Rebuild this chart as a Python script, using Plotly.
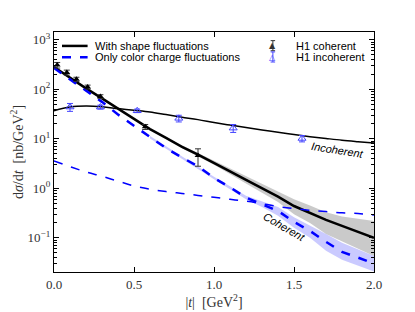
import plotly.graph_objects as go

# ---- data ----
t_curve = [0.0, 0.1, 0.2, 0.3, 0.4, 0.5, 0.6, 0.7, 0.8, 0.9, 1.0,
           1.1, 1.2, 1.3, 1.4, 1.5, 1.6, 1.7, 1.8, 1.9, 2.0]
coh_shape = [282, 170, 105, 66, 41, 25, 15.8, 10.5, 6.9, 4.8, 3.3,
             2.2, 1.48, 1.0, 0.68, 0.44, 0.32, 0.23, 0.175, 0.13, 0.1]
coh_color = [270, 158, 95, 56, 31, 18.5, 10.8, 6.5, 4.2, 2.8, 1.62,
             1.05, 0.65, 0.48, 0.35, 0.21, 0.138, 0.083, 0.052, 0.04, 0.03]
incoh_shape = [37, 44, 46, 44.5, 41, 38, 35, 31, 27.5, 24.5, 21.5,
               19, 17, 15.2, 13.6, 12.2, 11.1, 10.2, 9.4, 8.8, 8.3]
incoh_color = [3.6, 2.75, 2.15, 1.75, 1.4, 1.12, 0.96, 0.86, 0.79, 0.72, 0.66,
               0.6, 0.55, 0.49, 0.43, 0.39, 0.36, 0.34, 0.32, 0.31, 0.29]

t_band_shape = [0.8, 1.0, 1.2, 1.3, 1.4, 1.5, 1.6, 1.7, 1.8, 1.9, 2.0]
shape_lo = [6.5, 3.0, 1.25, 0.8, 0.53, 0.30, 0.2, 0.12, 0.085, 0.06, 0.043]
shape_hi = [7.4, 3.6, 1.75, 1.22, 0.88, 0.6, 0.45, 0.33, 0.27, 0.24, 0.22]

t_band_color = [0.6, 0.8, 1.0, 1.2, 1.3, 1.4, 1.5, 1.6, 1.7, 1.8, 1.9, 2.0]
color_lo = [10.2, 4.0, 1.52, 0.6, 0.42, 0.28, 0.16, 0.10, 0.055, 0.036, 0.027, 0.021]
color_hi = [11.4, 4.4, 1.72, 0.71, 0.55, 0.42, 0.26, 0.18, 0.12, 0.08, 0.058, 0.043]

h1_coh_t = [0.02, 0.08, 0.14, 0.21, 0.29, 0.57, 0.9]
h1_coh_y = [310, 220, 160, 112, 72, 17.5, 4.6]
h1_coh_ep = [40, 25, 16, 10, 6, 2.0, 1.7]
h1_coh_em = [40, 25, 16, 10, 6, 2.0, 1.8]

h1_inc_t = [0.1, 0.29, 0.52, 0.78, 1.12, 1.55]
h1_inc_y = [44, 44, 37, 26, 16.5, 10.2]
h1_inc_e = [8, 4, 3, 4, 3, 1.5]

x_ticks = [0.0, 0.5, 1.0, 1.5, 2.0]
x_ticklabels = ["0.0", "0.5", "1.0", "1.5", "2.0"]
y_ticks = [0.1, 1, 10, 100, 1000]
y_ticklabels = ["10<sup>−1</sup>", "10<sup>0</sup>", "10<sup>1</sup>",
                "10<sup>2</sup>", "10<sup>3</sup>"]

legend_left = ["With shape fluctuations", "Only color charge fluctuations"]
legend_right = ["H1 coherent", "H1 incoherent"]

serif = "Liberation Serif"
sans = "Liberation Sans"
BLUE = "#0000ff"
DBLUE = "#4444ff"

fig = go.Figure()

# bands
fig.add_trace(go.Scatter(x=t_band_shape + t_band_shape[::-1],
                         y=shape_hi + shape_lo[::-1], fill="toself",
                         fillcolor="rgba(150,150,150,0.5)", line=dict(width=0),
                         showlegend=False, hoverinfo="skip"))
fig.add_trace(go.Scatter(x=t_band_color + t_band_color[::-1],
                         y=color_hi + color_lo[::-1], fill="toself",
                         fillcolor="rgba(80,80,255,0.3)", line=dict(width=0),
                         showlegend=False, hoverinfo="skip"))

# curves
fig.add_trace(go.Scatter(x=t_curve, y=coh_shape, mode="lines",
                         line=dict(color="black", width=2.5),
                         name=legend_left[0], showlegend=False))
fig.add_trace(go.Scatter(x=t_curve, y=coh_color, mode="lines",
                         line=dict(color=BLUE, width=2.5, dash="dash"),
                         name=legend_left[1], showlegend=False))
fig.add_trace(go.Scatter(x=t_curve, y=incoh_shape, mode="lines", line_shape="spline",
                         line=dict(color="black", width=1.5), showlegend=False))
fig.add_trace(go.Scatter(x=t_curve, y=incoh_color, mode="lines", line_shape="spline",
                         line=dict(color=BLUE, width=1.5, dash="dash"),
                         showlegend=False))

# data
fig.add_trace(go.Scatter(x=h1_coh_t, y=h1_coh_y, mode="markers",
                         marker=dict(symbol="triangle-up", color="black", size=6),
                         error_y=dict(type="data", array=h1_coh_ep, arrayminus=h1_coh_em,
                                      color="#333333", thickness=1, width=3),
                         name=legend_right[0], showlegend=False))
fig.add_trace(go.Scatter(x=h1_inc_t, y=h1_inc_y, mode="markers",
                         marker=dict(symbol="triangle-up-open", color=DBLUE, size=7,
                                     line=dict(width=1)),
                         error_y=dict(type="data", array=h1_inc_e,
                                      color=DBLUE, thickness=1, width=3),
                         name=legend_right[1], showlegend=False))

# curve labels
fig.add_annotation(x=1.77, y=0.78, xref="x", yref="y", yanchor="middle",
                   text="<i>Incoherent</i>", showarrow=False, textangle=9,
                   font=dict(family=sans, size=11, color="black"))
fig.add_annotation(x=1.44, y=-0.79, xref="x", yref="y",
                   text="<i>Coherent</i>", showarrow=False, textangle=30,
                   font=dict(family=sans, size=11, color="black"))

# ---- compact matplotlib-style legends (paper coordinates) ----
row_y = [0.942, 0.895]
# left legend: line samples + labels
fig.add_shape(type="line", xref="paper", yref="paper", x0=0.025, x1=0.105,
              y0=row_y[0], y1=row_y[0], line=dict(color="black", width=2.5))
fig.add_shape(type="line", xref="paper", yref="paper", x0=0.025, x1=0.105,
              y0=row_y[1], y1=row_y[1], line=dict(color=BLUE, width=2.5, dash="dash"))
for txt, yy in zip(legend_left, row_y):
    fig.add_annotation(x=0.125, y=yy, xref="paper", yref="paper", xanchor="left",
                       yanchor="middle", text=txt, showarrow=False, borderpad=0,
                       font=dict(family=sans, size=11, color="black"))
# right legend: marker samples with error bars + labels
mk_x = 0.684
for yy, col, glyph in zip(row_y, ["#333333", DBLUE], ["▲", "△"]):
    fig.add_shape(type="line", xref="paper", yref="paper", x0=mk_x, x1=mk_x,
                  y0=yy - 0.02, y1=yy + 0.022, line=dict(color=col, width=1))
    for cap in (yy - 0.02, yy + 0.022):
        fig.add_shape(type="line", xref="paper", yref="paper", x0=mk_x - 0.007,
                      x1=mk_x + 0.007, y0=cap, y1=cap, line=dict(color=col, width=1))
    fig.add_annotation(x=mk_x, y=yy, xref="paper", yref="paper", xanchor="center",
                       yanchor="middle", text=glyph, showarrow=False, borderpad=0,
                       font=dict(family="DejaVu Sans", size=8, color=col))
for txt, yy in zip(legend_right, row_y):
    fig.add_annotation(x=0.753, y=yy, xref="paper", yref="paper", xanchor="left",
                       yanchor="middle", text=txt, showarrow=False, borderpad=0,
                       font=dict(family=sans, size=11, color="black"))

axis_common = dict(showline=True, linecolor="black", linewidth=1.2, mirror="ticks",
                   ticks="inside", tickcolor="black", ticklen=5, showgrid=False,
                   zeroline=False, automargin=False,
                   tickfont=dict(family=serif, size=13, color="#333333"))

# page body has an 8px margin: figure is 407x304 drawn from (8, 8)
fig.update_layout(
    width=407, height=304,
    margin=dict(l=46, r=41, t=24, b=40),
    plot_bgcolor="white", paper_bgcolor="white",
    showlegend=False,
    xaxis=dict(range=[0, 2.0], tickvals=x_ticks, ticktext=x_ticklabels,
               title=dict(text="|<i>t</i>|  [GeV<sup>2</sup>]",
                          font=dict(family=serif, size=14, color="#333333"), standoff=2),
               **axis_common),
    yaxis=dict(type="log", range=[-1.69, 3.16], tickvals=y_ticks, ticktext=y_ticklabels,
               title=dict(text="d<i>σ</i>/d<i>t</i>  [nb/GeV<sup>2</sup>]",
                          font=dict(family=serif, size=14, color="#333333"), standoff=2),
               minor=dict(ticks="inside", ticklen=2.5, tickcolor="black",
                          tickvals=[m * 10 ** e for e in range(-2, 4) for m in range(2, 10)]),
               **axis_common),
)

fig.write_html("out.html")
